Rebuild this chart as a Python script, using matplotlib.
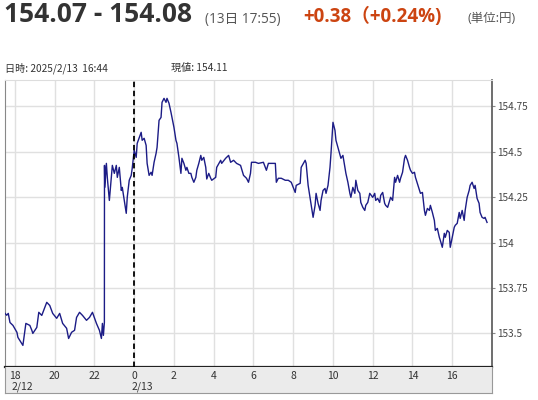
import matplotlib
matplotlib.use("Agg")
import matplotlib.pyplot as plt

plt.rcParams['font.family'] = ['Noto Sans CJK JP', 'DejaVu Sans']
HEAD_FONT = ['Open Sans', 'Noto Sans CJK JP']

# hours counted from 2/12 00:00 (24 = 2/13 00:00)
hours = [
    17.50, 17.585, 17.665, 17.75, 17.90, 18.10, 18.15, 18.40, 18.55, 18.75,
    18.85, 18.90, 19.10, 19.20, 19.35, 19.60, 19.75, 19.90, 20.10, 20.25,
    20.40, 20.60, 20.70, 20.85, 21.00, 21.10, 21.25, 21.40, 21.60, 21.75,
    21.90, 22.10, 22.25, 22.35, 22.40, 22.45, 22.50,
    22.505, 22.52, 22.60, 22.65, 22.75, 22.85, 22.90, 23.00, 23.10, 23.15,
    23.25, 23.35, 23.40, 23.50, 23.60, 23.65, 23.75, 23.85, 23.90, 24.00,
    24.10, 24.15, 24.35, 24.40, 24.50, 24.60, 24.65, 24.75, 24.85, 24.90,
    25.00, 25.10, 25.15, 25.25, 25.35, 25.40, 25.50, 25.60, 25.65, 25.75,
    25.85, 25.90, 26.00, 26.10, 26.15, 26.25, 26.35, 26.40, 26.50, 26.60,
    26.65, 26.75, 26.85, 26.90, 27.00, 27.10, 27.15, 27.25, 27.35, 27.40,
    27.50, 27.60, 27.65, 27.75, 27.85, 27.90, 28.10, 28.15, 28.35, 28.40,
    28.60, 28.75, 28.85, 29.00, 29.15, 29.35, 29.50, 29.65, 29.75, 29.85,
    29.90, 30.10, 30.25, 30.50, 30.65, 30.75, 30.90, 31.10, 31.15, 31.25,
    31.40, 31.60, 31.75, 31.90, 32.10, 32.15, 32.35, 32.40, 32.60, 32.65,
    32.75, 32.85, 32.90, 33.00, 33.10, 33.15, 33.25, 33.35, 33.40, 33.50,
    33.60, 33.65, 33.75, 33.85, 33.90, 34.00, 34.10, 34.15, 34.25, 34.40,
    34.50, 34.65, 34.75, 34.85, 34.90, 35.00, 35.10, 35.15, 35.25, 35.35,
    35.40, 35.50, 35.60, 35.65, 35.75, 35.85, 36.00, 36.10, 36.15, 36.25,
    36.35, 36.40, 36.50, 36.60, 36.65, 36.75, 36.85, 36.90, 37.00, 37.10,
    37.15, 37.25, 37.35, 37.40, 37.50, 37.60, 37.65, 37.75, 37.85, 37.90,
    38.00, 38.10, 38.15, 38.35, 38.40, 38.50, 38.60, 38.65, 38.75, 38.85,
    38.90, 39.00, 39.10, 39.15, 39.25, 39.35, 39.40, 39.50, 39.60, 39.65,
    39.75, 39.85, 39.90, 40.00, 40.10, 40.15, 40.25, 40.35, 40.40, 40.50,
    40.60, 40.65, 40.75, 40.85, 40.90, 41.00, 41.10, 41.15, 41.25, 41.35,
    41.40, 41.50, 41.60, 41.65, 41.75,
]
prices = [
    153.610, 153.600, 153.610, 153.560, 153.544, 153.506, 153.478, 153.434, 153.555, 153.544,
    153.517, 153.500, 153.533, 153.616, 153.599, 153.671, 153.654, 153.610, 153.583, 153.610,
    153.555, 153.528, 153.472, 153.506, 153.517, 153.588, 153.616, 153.599, 153.572, 153.588,
    153.616, 153.555, 153.517, 153.472, 153.555, 153.489, 153.561,
    154.425, 154.304, 154.436, 154.354, 154.232, 154.359, 154.425, 154.381, 154.425, 154.359,
    154.414, 154.287, 154.304, 154.232, 154.161, 154.249, 154.343, 154.370, 154.409, 154.508,
    154.469, 154.546, 154.607, 154.563, 154.574, 154.535, 154.436, 154.370, 154.387, 154.370,
    154.442, 154.491, 154.524, 154.673, 154.689, 154.772, 154.794, 154.772, 154.794, 154.767,
    154.717, 154.689, 154.634, 154.563, 154.546, 154.469, 154.381, 154.464, 154.436, 154.398,
    154.414, 154.381, 154.381, 154.359, 154.332, 154.359, 154.398, 154.436, 154.480, 154.453,
    154.469, 154.414, 154.350, 154.381, 154.354, 154.343, 154.359, 154.414, 154.453, 154.436,
    154.464, 154.480, 154.442, 154.453, 154.436, 154.425, 154.370, 154.354, 154.332, 154.381,
    154.442, 154.442, 154.436, 154.442, 154.398, 154.436, 154.436, 154.436, 154.332, 154.354,
    154.354, 154.343, 154.343, 154.332, 154.276, 154.315, 154.326, 154.414, 154.453, 154.436,
    154.315, 154.243, 154.205, 154.139, 154.205, 154.271, 154.216, 154.177, 154.232, 154.287,
    154.298, 154.271, 154.315, 154.414, 154.491, 154.662, 154.618, 154.563, 154.524, 154.464,
    154.480, 154.381, 154.332, 154.271, 154.249, 154.304, 154.271, 154.343, 154.287, 154.271,
    154.221, 154.194, 154.177, 154.205, 154.221, 154.271, 154.249, 154.271, 154.232, 154.243,
    154.221, 154.260, 154.276, 154.216, 154.205, 154.194, 154.232, 154.249, 154.232, 154.359,
    154.332, 154.370, 154.332, 154.354, 154.387, 154.464, 154.480, 154.453, 154.414, 154.398,
    154.381, 154.387, 154.359, 154.287, 154.271, 154.276, 154.177, 154.150, 154.188, 154.177,
    154.205, 154.166, 154.122, 154.067, 154.078, 154.029, 154.012, 153.974, 154.051, 154.029,
    154.067, 154.056, 153.974, 154.029, 154.084, 154.095, 154.106, 154.166, 154.133, 154.177,
    154.122, 154.177, 154.249, 154.287, 154.315, 154.332, 154.298, 154.315, 154.243, 154.216,
    154.166, 154.139, 154.133, 154.139, 154.111,
]

x_ticks = [18, 20, 22, 24, 26, 28, 30, 32, 34, 36, 38, 40]
x_labels = ['18', '20', '22', '0', '2', '4', '6', '8', '10', '12', '14', '16']
date_labels = [(18, '2/12'), (24, '2/13')]
y_ticks = [153.5, 153.75, 154.0, 154.25, 154.5, 154.75]
y_labels = ['153.5', '153.75', '154', '154.25', '154.5', '154.75']

title_price = '154.07 - 154.08'
title_time = '(13日 17:55)'
title_change = '+0.38（+0.24%)'
title_unit = '(単位:円)'
info_time = '日時: 2025/2/13  16:44'
info_value = '現値: 154.11'

W, H = 538, 400
fig = plt.figure(figsize=(W / 100, H / 100), dpi=100)
fig.patch.set_facecolor('white')


def fx(px):
    return px / W


def fy(py):
    return 1 - py / H


left, right, top, bottom = 5, 492, 80, 367
ax = fig.add_axes([fx(left), fy(bottom), fx(right - left), (bottom - top) / H])
ax.set_xlim(17.5, 42.0)
ax.set_ylim(153.315, 154.895)

ax.plot(hours, prices, color='#1c1c86', linewidth=1.0, zorder=3)
ax.axvline(24, color='black', linestyle=(0, (3, 2)), linewidth=1.3, zorder=4)

for t in x_ticks:
    ax.axvline(t, color='#e0e0e0', linewidth=1.0, zorder=1)
for v in y_ticks:
    ax.axhline(v, color='#e0e0e0', linewidth=1.0, zorder=1)

ax.set_xticks([])
ax.set_yticks(y_ticks)
ax.set_yticklabels(y_labels)
ax.yaxis.tick_right()
ax.tick_params(axis='y', length=2, width=0.8, color='#888888', labelsize=7.2,
               labelcolor='#444444', pad=2)
ax.spines['left'].set_color('#888888')
ax.spines['top'].set_color('#dddddd')
ax.spines['right'].set_color('#555555')
ax.spines['right'].set_linewidth(1.2)
ax.spines['bottom'].set_color('#222222')
ax.spines['bottom'].set_linewidth(1.6)

# gray band holding the time labels
band = fig.add_axes([fx(left), fy(393), fx(right - left), 26 / H])
band.set_xlim(17.5, 42.0)
band.set_ylim(0, 1)
band.set_facecolor('#ebebeb')
band.set_xticks([])
band.set_yticks([])
for s in band.spines.values():
    s.set_color('#999999')
    s.set_linewidth(0.8)
band.spines['top'].set_visible(False)
for t, lab in zip(x_ticks, x_labels):
    band.text(t, 0.66, lab, ha='center', va='center', fontsize=7.5, color='#333333')
for t, lab in date_labels:
    band.text(t - 0.15, 0.24, lab, ha='left', va='center', fontsize=7.5, color='#333333')

# header texts
fig.text(fx(4), fy(15), title_price, fontsize=19, fontweight='bold', color='#333333',
         ha='left', va='center', family=HEAD_FONT)
fig.text(fx(205), fy(19), title_time, fontsize=9.8, color='#555555', ha='left',
         va='center', family=HEAD_FONT)
fig.text(fx(303), fy(17), title_change, fontsize=13.5, fontweight='bold', color='#cc4411',
         ha='left', va='center', family=HEAD_FONT)
fig.text(fx(467), fy(18), title_unit, fontsize=9, color='#555555', ha='left', va='center',
         family=HEAD_FONT)
fig.text(fx(5), fy(68), info_time, fontsize=7.3, color='#333333', ha='left', va='center')
fig.text(fx(171), fy(68), info_value, fontsize=7.3, color='#333333', ha='left', va='center')

fig.savefig('out.png', dpi=100)
